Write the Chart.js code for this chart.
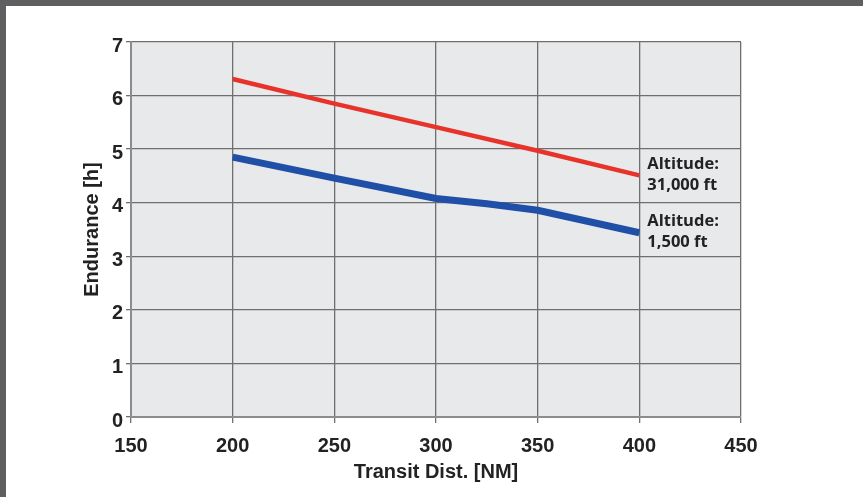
<!DOCTYPE html>
<html>
<head>
<meta charset="utf-8">
<script src="https://cdn.jsdelivr.net/npm/chart.js@4.4.1/dist/chart.umd.min.js"></script>
<style>
  html, body { margin: 0; padding: 0; background: #5f5f61; }
  #frame { position: absolute; left: 6px; top: 6px; width: 857px; height: 491px; background: #fff; }
  canvas { display: block; }
</style>
</head>
<body>
<div id="frame"><canvas id="chart" width="857" height="491"></canvas></div>
<script>
// Endurance vs. transit distance
const transitHigh = [200, 250, 300, 350, 400]
const endurance31000 = [6.31, 5.85, 5.41, 4.97, 4.51]
const transitLow = [200, 250, 300, 325, 350, 400]
const endurance1500 = [4.85, 4.46, 4.08, 3.98, 3.86, 3.44]
const xTicks = [150, 200, 250, 300, 350, 400, 450]
const yTicks = [0, 1, 2, 3, 4, 5, 6, 7]
const seriesLabels = [["Altitude:", "31,000 ft"], ["Altitude:", "1,500 ft"]]

const toPoints = (xs, ys) => xs.map((x, i) => ({ x, y: ys[i] }))
const tickFont = { family: "'Liberation Sans', Arial, sans-serif", weight: "bold", size: 20 }

// grey plot area behind the grid
const plotBackground = {
  id: "plotBackground",
  beforeDraw(chart) {
    const { ctx, chartArea: a } = chart
    ctx.save()
    ctx.fillStyle = "#e8e9eb"
    ctx.fillRect(a.left, a.top, a.right - a.left, a.bottom - a.top)
    ctx.restore()
  },
}

// two-line labels next to the last point of each line
const endLabels = {
  id: "endLabels",
  afterDatasetsDraw(chart) {
    const { ctx } = chart
    ctx.save()
    ctx.font = "bold 16.5px 'Open Sans', sans-serif"
    ctx.fillStyle = "#222"
    ctx.textBaseline = "middle"
    chart.data.datasets.forEach((ds, i) => {
      const pts = chart.getDatasetMeta(i).data
      const last = pts[pts.length - 1]
      const lines = seriesLabels[i]
      ctx.fillText(lines[0], last.x + 8, last.y - 11)
      ctx.fillText(lines[1], last.x + 8, last.y + 10)
    })
    ctx.restore()
  },
}

new Chart(document.getElementById("chart"), {
  type: "line",
  data: {
    datasets: [
      {
        label: "Altitude: 31,000 ft",
        data: toPoints(transitHigh, endurance31000),
        borderColor: "#e8332b",
        borderWidth: 4.5,
        pointRadius: 0,
        tension: 0,
      },
      {
        label: "Altitude: 1,500 ft",
        data: toPoints(transitLow, endurance1500),
        borderColor: "#1f4fa6",
        borderWidth: 7,
        pointRadius: 0,
        tension: 0,
      },
    ],
  },
  options: {
    responsive: false,
    animation: false,
    devicePixelRatio: 1,
    layout: { padding: { left: 0, right: 122, top: 36, bottom: 0 } },
    plugins: { legend: { display: false }, tooltip: { enabled: false } },
    scales: {
      x: {
        type: "linear",
        min: 150,
        max: 450,
        afterBuildTicks: s => { s.ticks = xTicks.map(v => ({ value: v })) },
        afterFit: s => { s.height = 80 },
        ticks: { font: tickFont, color: "#222", padding: 11, maxRotation: 0 },
        grid: { color: "#6f6f6f", lineWidth: 1.3, tickLength: 6, tickColor: "#6f6f6f" },
        border: { color: "#8c8c8c", width: 2 },
        title: {
          display: true,
          text: "Transit Dist. [NM]",
          font: tickFont,
          color: "#222",
          padding: { top: 0, bottom: 13 },
        },
      },
      y: {
        min: 0,
        max: 7,
        afterBuildTicks: s => { s.ticks = yTicks.map(v => ({ value: v })) },
        afterFit: s => { s.width = 125 },
        ticks: { font: tickFont, color: "#222", padding: 3, labelOffset: 4 },
        grid: { color: "#6f6f6f", lineWidth: 1.3, tickLength: 5, tickColor: "#6f6f6f" },
        border: { color: "#8c8c8c", width: 2 },
        title: {
          display: true,
          text: "Endurance [h]",
          font: tickFont,
          color: "#222",
          padding: { top: 74, bottom: 0 },
        },
      },
    },
  },
  plugins: [plotBackground, endLabels],
})
</script>
</body>
</html>
